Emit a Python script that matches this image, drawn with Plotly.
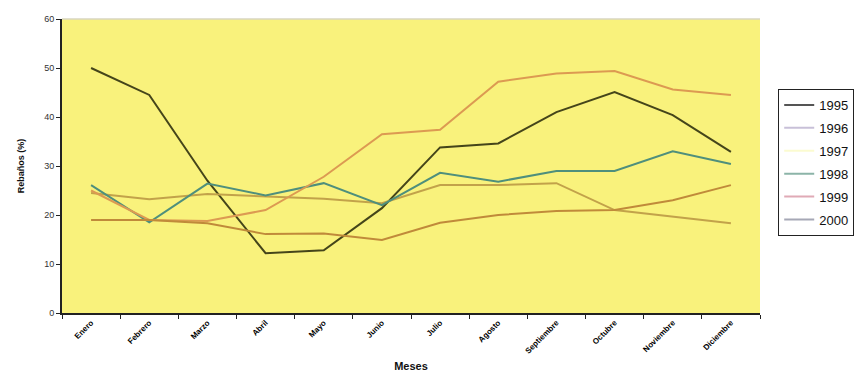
import plotly.graph_objects as go

meses = ["Enero", "Febrero", "Marzo", "Abril", "Mayo", "Junio", "Julio",
         "Agosto", "Septiembre", "Octubre", "Noviembre", "Diciembre"]

y1995 = [50, 44.5, 27, 12.2, 12.8, 21.4, 33.8, 34.6, 41, 45.1, 40.4, 32.9]
y1996 = [24.5, 23.2, 24.3, 23.8, 23.3, 22.4, 26.1, 26.1, 26.5, 21, 19.6, 18.3]
y1998 = [26.1, 18.5, 26.4, 24, 26.5, 22, 28.6, 26.8, 29, 29, 33, 30.4]
y1999 = [25, 19, 18.8, 21, 27.8, 36.5, 37.4, 47.2, 48.9, 49.4, 45.6, 44.5]
y2000 = [19, 19, 18.3, 16.1, 16.2, 14.9, 18.4, 20, 20.8, 21, 23, 26.1]

anios = ["1995", "1996", "1997", "1998", "1999", "2000"]
series = {"1995": y1995, "1996": y1996, "1998": y1998, "1999": y1999, "2000": y2000}

# colour of each line as it sits on the yellow plot area
color_linea = {"1995": "#45451a", "1996": "#c2a24a", "1998": "#4f8f7c",
               "1999": "#dc9a52", "2000": "#c08a3a"}
# colour of the legend keys
color_leyenda = {"1995": "#555555", "1996": "#c8c0d8", "1997": "#fbfbd0",
                 "1998": "#8cb4a8", "1999": "#e0aab6", "2000": "#a6a8b6"}

fig = go.Figure()

for anio, valores in series.items():
    fig.add_trace(go.Scatter(
        x=meses, y=valores, mode="lines", name=anio,
        line=dict(color=color_linea[anio], width=2),
        showlegend=False, hoverinfo="x+y+name"))

for anio in anios:
    fig.add_trace(go.Scatter(
        x=[None], y=[None], mode="lines", name=anio, legendgroup=anio,
        line=dict(color=color_leyenda[anio], width=2), showlegend=True))

fig.update_layout(
    width=858, height=387,
    margin=dict(l=62, r=98, t=19, b=74),
    paper_bgcolor="white",
    plot_bgcolor="#f9f27c",
    font=dict(family="Liberation Sans, Arial, sans-serif", color="#111111"),
    legend=dict(
        xref="container", yref="container",
        x=0.907, y=0.77, xanchor="left", yanchor="top",
        bgcolor="white", bordercolor="#222222", borderwidth=1,
        font=dict(size=13, color="#111111"),
        traceorder="grouped", tracegroupgap=3,
    ),
    xaxis=dict(
        type="category", range=[-0.5, len(meses) - 0.5],
        tickangle=-45, tickson="boundaries",
        ticks="outside", ticklen=4, tickcolor="#222222",
        showline=True, linecolor="#222222", linewidth=2,
        showgrid=False, zeroline=False, mirror=False,
        tickfont=dict(size=8, color="#000000", weight="bold",
                      family="Liberation Sans Narrow, Liberation Sans, Arial"),
        title=dict(text="<b>Meses</b>", font=dict(size=11), standoff=8),
    ),
    yaxis=dict(
        range=[0, 60], dtick=10, ticks="outside", ticklen=4,
        tickcolor="#222222", showline=True, linecolor="#222222", linewidth=2,
        showgrid=False, zeroline=False,
        tickfont=dict(size=9, color="#333333"),
        title=dict(text="<b>Rebaños (%)</b>", font=dict(size=9), standoff=18),
    ),
    shapes=[dict(type="line", xref="paper", yref="paper", x0=0, x1=1, y0=1, y1=1,
                 line=dict(color="#d8d6c0", width=1.5))],
)

fig.write_html("out.html")
